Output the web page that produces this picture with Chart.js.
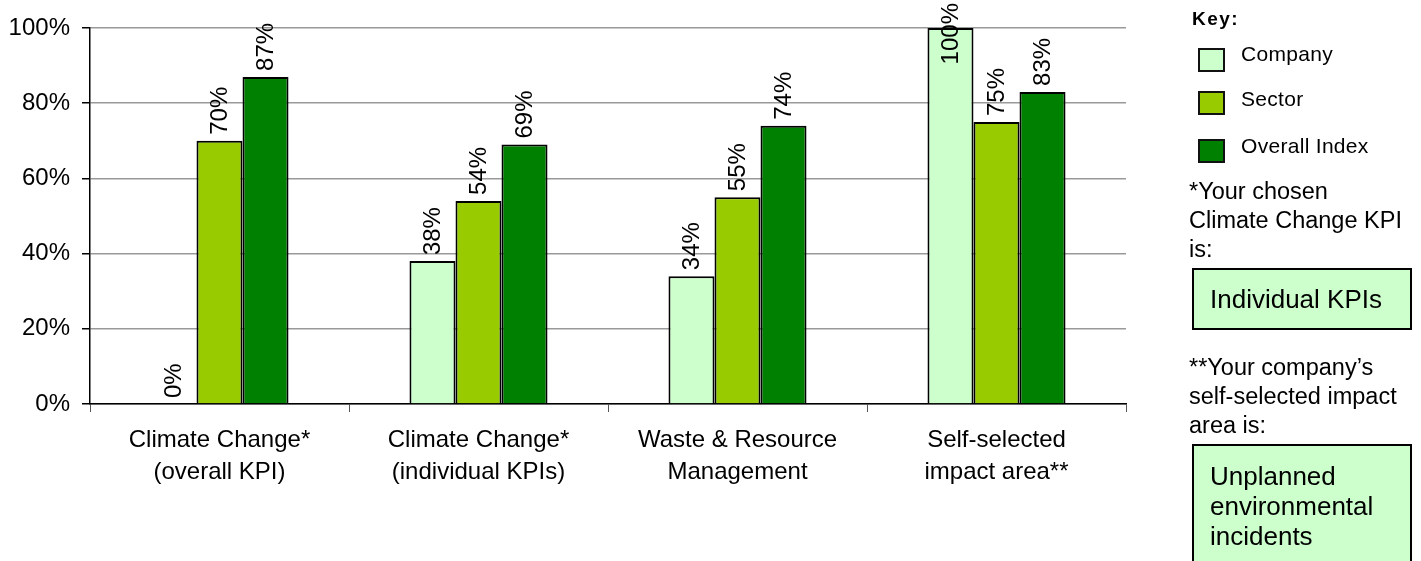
<!DOCTYPE html>
<html>
<head>
<meta charset="utf-8">
<script src="https://cdn.jsdelivr.net/npm/chart.js@4"></script>
<style>
  body { margin: 0; background: #fff; font-family: "Liberation Sans", Arial, sans-serif; }
  #wrap { position: relative; width: 1421px; height: 561px; overflow: hidden; }
  #chart { position: absolute; left: 0; top: 0; }
  .side { position: absolute; color: #000; }
  .key { left: 1192px; top: 8px; font-size: 19px; font-weight: bold; letter-spacing: 1.5px; }
  .item { position: absolute; left: 1198px; width: 23px; height: 20px; border: 2px solid #111; }
  .itemtxt { position: absolute; left: 1241px; font-size: 21px; letter-spacing: 0.3px; }
  .note { left: 1189px; font-size: 23.5px; line-height: 29px; }
  .box { position: absolute; left: 1192px; width: 220px; border: 2px solid #000; background: #ccffcc; padding-left: 16px; box-sizing: border-box; font-size: 26px; }
</style>
</head>
<body>
<div id="wrap">
  <canvas id="chart" width="1421" height="561"></canvas>

  <div class="side key">Key:</div>
  <div class="item" style="top:48px;background:#ccffcc"></div>
  <div class="itemtxt" style="top:42px">Company</div>
  <div class="item" style="top:91px;background:#99cc00"></div>
  <div class="itemtxt" style="top:87px">Sector</div>
  <div class="item" style="top:139px;background:#008000"></div>
  <div class="itemtxt" style="top:134px">Overall Index</div>

  <div class="side note" style="top:177px">*Your chosen<br>Climate Change KPI<br>is:</div>
  <div class="box" style="top:268px;height:62px;line-height:58px">Individual KPIs</div>

  <div class="side note" style="top:353px">**Your company’s<br>self-selected impact<br>area is:</div>
  <div class="box" style="top:444px;height:140px;padding-top:15px;line-height:30px">Unplanned<br>environmental<br>incidents</div>
</div>
<script>
const categories = [
  ["Climate Change*", "(overall KPI)"],
  ["Climate Change*", "(individual KPIs)"],
  ["Waste & Resource", "Management"],
  ["Self-selected", "impact area**"]
];
const companyValues = [0, 38, 34, 100];
const sectorValues = [70, 54, 55, 75];
const overallValues = [87, 69, 74, 83];
const yTicks = [0, 20, 40, 60, 80, 100];

const fontFamily = '"Liberation Sans", Arial, sans-serif';

// rotated value labels above each bar
const barLabels = {
  id: "barLabels",
  afterDatasetsDraw(chart) {
    const ctx = chart.ctx;
    ctx.save();
    ctx.font = "24px " + fontFamily;
    ctx.fillStyle = "#000";
    ctx.textBaseline = "middle";
    ctx.textAlign = "left";
    chart.data.datasets.forEach((ds, i) => {
      const meta = chart.getDatasetMeta(i);
      meta.data.forEach((bar, j) => {
        const txt = Math.round(ds.data[j]) + "%";
        const w = ctx.measureText(txt).width;
        let start = bar.y - 6;
        if (start - w < 3) start = 3 + w;
        ctx.save();
        ctx.translate(bar.x, start);
        ctx.rotate(-Math.PI / 2);
        ctx.fillText(txt, 0, 1);
        ctx.restore();
      });
    });
    ctx.restore();
  }
};

new Chart(document.getElementById("chart").getContext("2d"), {
  type: "bar",
  data: {
    labels: categories,
    datasets: [
      { label: "Company", data: companyValues, backgroundColor: "#ccffcc" },
      { label: "Sector", data: sectorValues, backgroundColor: "#99cc00" },
      { label: "Overall Index", data: overallValues, backgroundColor: "#008000" }
    ]
  },
  options: {
    responsive: false,
    animation: false,
    devicePixelRatio: 1,
    layout: { padding: { top: 28, right: 295, left: 0, bottom: 0 } },
    datasets: {
      bar: {
        borderColor: "#000",
        borderWidth: 2,
        barPercentage: 1,
        categoryPercentage: 0.533
      }
    },
    plugins: {
      legend: { display: false },
      tooltip: { enabled: false }
    },
    scales: {
      x: {
        grid: { offset: true, drawOnChartArea: false, tickLength: 8, color: "#555" },
        border: { color: "#000", width: 1.5 },
        ticks: {
          color: "#000",
          font: { size: 24, family: fontFamily, lineHeight: 1.32 },
          padding: 13,
          maxRotation: 0
        },
        afterFit(scale) { scale.height = 157; }
      },
      y: {
        min: 0,
        max: 100,
        afterBuildTicks(scale) { scale.ticks = yTicks.map(v => ({ value: v })); },
        grid: { color: "#999", tickLength: 8, lineWidth: 1.5, tickColor: "#000" },
        border: { color: "#000", width: 1.5 },
        ticks: {
          color: "#000",
          font: { size: 24, family: fontFamily },
          padding: 12,
          callback: v => v + "%"
        },
        afterFit(scale) { scale.width = 90; }
      }
    }
  },
  plugins: [barLabels]
});
</script>
</body>
</html>
